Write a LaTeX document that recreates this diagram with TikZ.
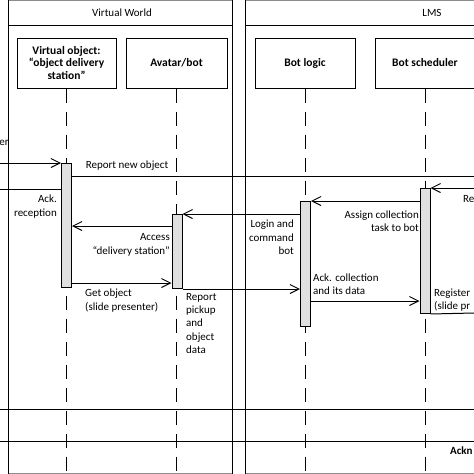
\documentclass[tikz,border=0pt]{standalone}
\usepackage{fontspec}
\setmainfont{Carlito}
\usetikzlibrary{arrows.meta}

\tikzset{
    head/.style={draw, line width=1pt, font=\fontsize{11.5}{12.8}\selectfont\bfseries, align=center, minimum width=100pt, minimum height=50pt, inner sep=0pt},
    actbar/.style={draw, line width=1pt, fill=black!12, minimum width=10pt, inner sep=0pt, anchor=north},
    lifeline/.style={line width=1pt, dash pattern=on 14pt off 9pt},
    msg/.style={line width=1pt, -{Straight Barb[length=9pt,width=9pt,line width=1pt]}},
    reply/.style={line width=1pt},
    framebar/.style={line width=1.8pt, black!45},
}

\begin{document}
\begin{tikzpicture}[x=1pt, y=-1pt, font=\fontsize{11}{13.3}\selectfont]
    \useasboundingbox (0,0) rectangle (474,474);
    \coordinate (bottom) at (0,474);
    \draw[framebar] (8,0.5) -- (232,0.5);
    \draw[framebar] (245,0.5) -- (474,0.5);
    \draw[framebar] (8,473.5) -- (232,473.5);
    \draw[framebar] (245,473.5) -- (474,473.5);
    \draw[line width=1pt] (8,0) -- (8,474);
    \draw[line width=1pt] (232,0) -- (232,474);
    \draw[line width=1pt] (245,0) -- (245,474);
    \draw[line width=1pt] (8,25) -- (232,25);
    \draw[line width=1pt] (245,25) -- (474,25);
    \node (vw) at (122,12.5) {Virtual World};
    \node (lms) at (432,12.5) {LMS};

    \node[head, minimum width=99pt] (vo) at (66.5,63) {Virtual object:\\“object delivery\\station”};
    \node[head, minimum width=101pt] (av) at (176.5,63) {Avatar/bot};
    \node[head] (lg) at (305,63) {Bot logic};
    \node[head] (sc) at (425,63) {Bot scheduler};
    \foreach \n in {vo,av,lg,sc} {
        \draw[lifeline] (\n.south) -- (\n.south |- bottom);
    }

    \node[actbar, minimum height=124pt] (vobar) at (66.5,163) {};
    \node[actbar, minimum height=74pt] (avbar) at (177,214) {};
    \node[actbar, minimum height=125pt] (lgbar) at (305.5,201) {};
    \node[actbar, minimum height=125pt] (scbar) at (425,188) {};

    \coordinate (inL) at (0,163);
    \coordinate (ackL) at (0,189);
    \coordinate (repR) at (474,176.5);
    \coordinate (inR) at (474,188);
    \coordinate (regR) at (474,313);
    \draw[msg] (inL) -- (vobar.north west);
    \node[anchor=east, inner sep=0pt] (inlbl) at (9,143) {er};
    \draw[reply] (vobar.east |- repR) -- (repR);
    \node (replbl) at (127,166) {Report new object};
    \draw[reply] (vobar.west |- ackL) -- (ackL);
    \node[anchor=east, align=right, inner sep=0pt] (acklbl) at (57,206.5) {Ack.\\reception};
    \draw[msg] (inR) -- (scbar.north east);
    \node[anchor=west, inner sep=0pt] (inrlbl) at (463,199) {Re};
    \draw[msg] (scbar.west |- lgbar.north) -- (lgbar.north east);
    \node[anchor=east, align=right, inner sep=0pt] (asglbl) at (419,221.5) {Assign collection\\task to bot};
    \draw[msg] (lgbar.west |- avbar.north) -- (avbar.north east);
    \node[anchor=east, align=right, inner sep=0pt] (loglbl) at (294,237.5) {Login and\\command\\bot};
    \draw[msg] (avbar.west |- 0,226) -- (vobar.east |- 0,226);
    \node[anchor=east, align=right, inner sep=0pt] (acclbl) at (170,245) {Access\\“delivery station”};
    \draw[msg] (vobar.east |- 0,283) -- (avbar.west |- 0,283);
    \node[anchor=west, align=left, inner sep=0pt] (getlbl) at (85,300.5) {Get object\\(slide presenter)};
    \draw[msg] (avbar.south east) -- (lgbar.west |- avbar.south);
    \node[anchor=west, align=left, inner sep=0pt] (pcklbl) at (186,323.5) {Report\\pickup\\and\\object\\data};
    \draw[msg] (lgbar.east |- 0,301) -- (scbar.west |- 0,301);
    \node[anchor=west, align=left, inner sep=0pt] (colllbl) at (313,284.5) {Ack. collection\\and its data};
    \draw[reply] (scbar.south east) -- (regR);
    \node[anchor=west, align=left, inner sep=0pt] (reglbl) at (434,300) {Register\\(slide pr};

    \coordinate (l1L) at (0,409);
    \coordinate (l1R) at (474,409);
    \coordinate (l2L) at (0,441);
    \coordinate (l2R) at (474,441);
    \draw[reply] (l1L) -- (l1R);
    \draw[reply] (l2L) -- (l2R);
    \node[anchor=west, font=\fontsize{11}{13}\selectfont\bfseries, inner sep=0pt] (acknlbl) at (450,451) {Ackn};
\end{tikzpicture}
\end{document}
